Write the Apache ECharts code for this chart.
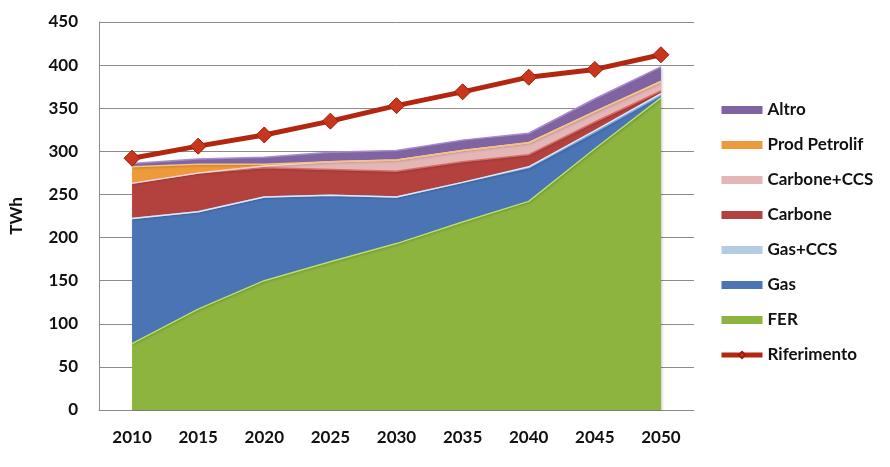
<!DOCTYPE html>
<html>
<head>
<meta charset="utf-8">
<script src="https://cdn.jsdelivr.net/npm/echarts@6/dist/echarts.min.js"></script>
<style>html,body{margin:0;padding:0;background:#fff}#c{width:890px;height:467px}</style>
</head>
<body>
<div id="c"></div>
<script>
const years = ['2010','2015','2020','2025','2030','2035','2040','2045','2050'];
const fer = [77,117,150,172,193,218,242,303,362];
const gas = [145,113,97,77,54,46,39,19,3];
const gasCCS = [0,0,0,0,0,0,1,2,2];
const carbone = [41,45,34,30,30,24,14,10,3];
const carboneCCS = [0,0,2,9,13,13,14,12,11];
const prodPetrolif = [19,10,2,0,0,0,0,0,0];
const altro = [4,6,8,11,11,12,11,15,17];
const riferimento = [292,306,319,335,353,369,386,395,412];

const font = 'Lato, "Open Sans", sans-serif';
function area(name, data, color, edge) {
  return {
    name, type: 'line', stack: 'total', data, symbol: 'none', smooth: false,
    lineStyle: { width: 1.5, color: edge },
    areaStyle: { color: color, opacity: 1, shadowColor: 'rgba(0,0,0,0.25)', shadowBlur: 3, shadowOffsetX: 1, shadowOffsetY: 1 },
    itemStyle: { color: color },
    emphasis: { disabled: true }
  };
}
const chart = echarts.init(document.getElementById('c'));
chart.setOption({
  animation: false,
  backgroundColor: '#fff',
  grid: { left: 99, right: 196, top: 22, bottom: 57 },
  legend: {
    orient: 'vertical', left: 714, top: 95, itemWidth: 41, itemHeight: 8, itemGap: 15,
    textStyle: { fontFamily: font, fontWeight: 'bold', fontSize: 17, color: '#111', lineHeight: 20 },
    data: [
      { name: 'Altro', icon: 'rect' },
      { name: 'Prod Petrolif', icon: 'rect' },
      { name: 'Carbone+CCS', icon: 'rect' },
      { name: 'Carbone', icon: 'rect' },
      { name: 'Gas+CCS', icon: 'rect' },
      { name: 'Gas', icon: 'rect' },
      { name: 'FER', icon: 'rect' },
      { name: 'Riferimento', lineStyle: { width: 5, color: '#b3260f' } }
    ]
  },
  xAxis: {
    type: 'category', data: years, boundaryGap: true,
    axisLine: { lineStyle: { color: '#8c8c8c', width: 1 } },
    axisTick: { show: false },
    axisLabel: { fontFamily: font, fontWeight: 'bold', fontSize: 17, color: '#111', margin: 19 }
  },
  yAxis: {
    type: 'value', min: 0, max: 450, interval: 50,
    name: 'TWh', nameLocation: 'middle', nameGap: 74, nameRotate: 90,
    nameTextStyle: { fontFamily: font, fontWeight: 'bold', fontSize: 17, color: '#111' },
    axisLine: { show: true, lineStyle: { color: '#8c8c8c', width: 1 } },
    axisTick: { show: false },
    splitLine: { lineStyle: { color: '#8c8c8c', width: 1 } },
    axisLabel: { fontFamily: font, fontWeight: 'bold', fontSize: 17, color: '#111', margin: 21 }
  },
  series: [
    area('FER', fer, '#8cb43f', '#b8e06c'),
    area('Gas', gas, '#4a74b4', '#78a8e8'),
    area('Gas+CCS', gasCCS, '#b6cbe4', '#dde8f5'),
    area('Carbone', carbone, '#b3423f', '#d86a66'),
    area('Carbone+CCS', carboneCCS, '#e4b6b5', '#f4d6d5'),
    area('Prod Petrolif', prodPetrolif, '#ec9a3a', '#f9c27a'),
    area('Altro', altro, '#8064a2', '#a68ccc'),
    {
      name: 'Riferimento', type: 'line', data: riferimento,
      symbol: 'diamond', symbolSize: 16,
      lineStyle: { width: 5, color: '#b3260f' },
      itemStyle: { color: '#c8361c', borderColor: '#9a1f0a', borderWidth: 1 },
      emphasis: { disabled: true }, z: 5
    }
  ]
});
</script>
</body>
</html>
